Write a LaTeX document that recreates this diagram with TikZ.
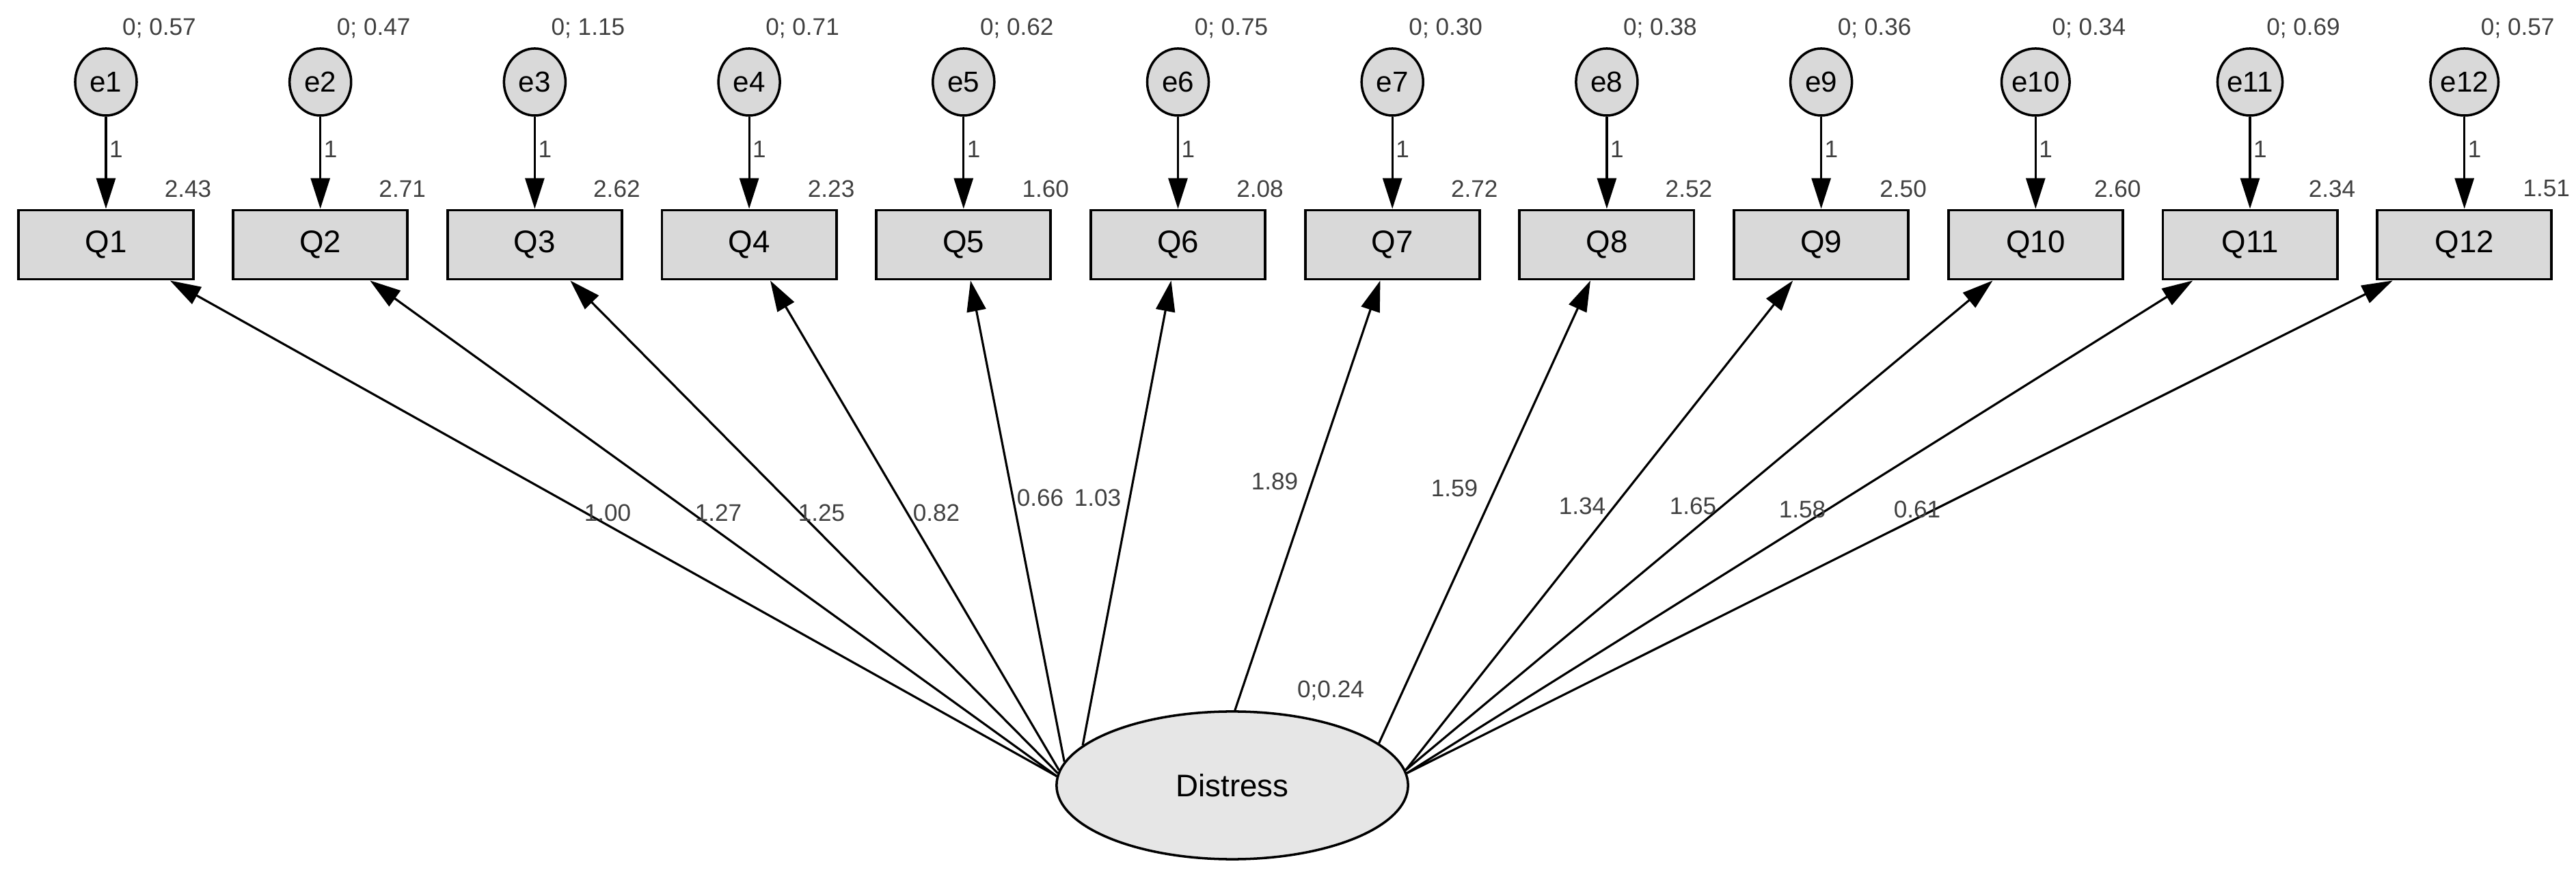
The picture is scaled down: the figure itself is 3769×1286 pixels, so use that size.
\documentclass[tikz,border=0pt]{standalone}
\usepackage{fontspec}
\setmainfont{Liberation Sans}
\usetikzlibrary{arrows.meta,shapes.geometric}
\definecolor{boxgray}{HTML}{D9D9D9}
\definecolor{ovalgray}{HTML}{E6E6E6}
\definecolor{labgray}{HTML}{404040}
\begin{document}
\begin{tikzpicture}[x=0.01cm, y=-0.01cm, font=\fontsize{13}{15}\selectfont]

		\tikzstyle{item} = [draw, line width=1.1pt, rectangle, fill=boxgray, minimum width=2.55cm, minimum height=1.01cm]
		\tikzstyle{err} = [draw, line width=1pt, ellipse, fill=boxgray, minimum width=0.9cm, minimum height=0.98cm, inner sep=0pt, font=\fontsize{12}{14}\selectfont]
		\tikzstyle{est} = [text=labgray, font=\fontsize{10}{12}\selectfont, inner sep=1pt]
		\tikzstyle{path} = [line width=0.9pt, -{Triangle[length=0.45cm, width=0.28cm]}]

		\useasboundingbox (0,0) rectangle (3769,1286);

		% Latent factor
		\node[draw, line width=1pt, ellipse, fill=ovalgray, minimum width=5.14cm, minimum height=2.16cm] (distress) at (1803,1149) {Distress};
		\node[est] (varD) at (1947,1010) {0;0.24};

		% Items, errors and loadings
		\foreach \i/\var/\icpt/\ang/\load/\lx/\ly in {
			1/0.57/2.43/177/1.00/889/750,
			2/0.47/2.71/177/1.27/1051/750,
			3/1.15/2.62/176/1.25/1202/750,
			4/0.71/2.23/175/0.82/1370/750,
			5/0.62/1.60/172/0.66/1522/728,
			6/0.75/2.08/165/1.03/1606/728,
			7/0.30/2.72/88/1.89/1865/704,
			8/0.38/2.52/16/1.59/2128/714,
			9/0.36/2.50/5/1.34/2315/740,
			10/0.34/2.60/5/1.65/2477/740,
			11/0.69/2.34/4/1.58/2637/745,
			12/0.57/1.51/4/0.61/2805/745}
		{
			\pgfmathsetmacro{\cx}{155+313.7*(\i-1)}
			\node[item] (q\i) at (\cx,358) {Q\i};
			\node[err] (e\i) at (\cx,120) {e\i};
			\node[est] (var\i) at (\cx+78,41) {0; \var};
			\node[est] (icpt\i) at (\cx+120,276) {\icpt};
			\draw[path] (e\i) -- node[est, right, pos=0.35] {1} (q\i);
			\draw[path] (distress.\ang) -- (q\i);
			\node[est] (load\i) at (\lx,\ly) {\load};
		}

	\end{tikzpicture}
\end{document}
